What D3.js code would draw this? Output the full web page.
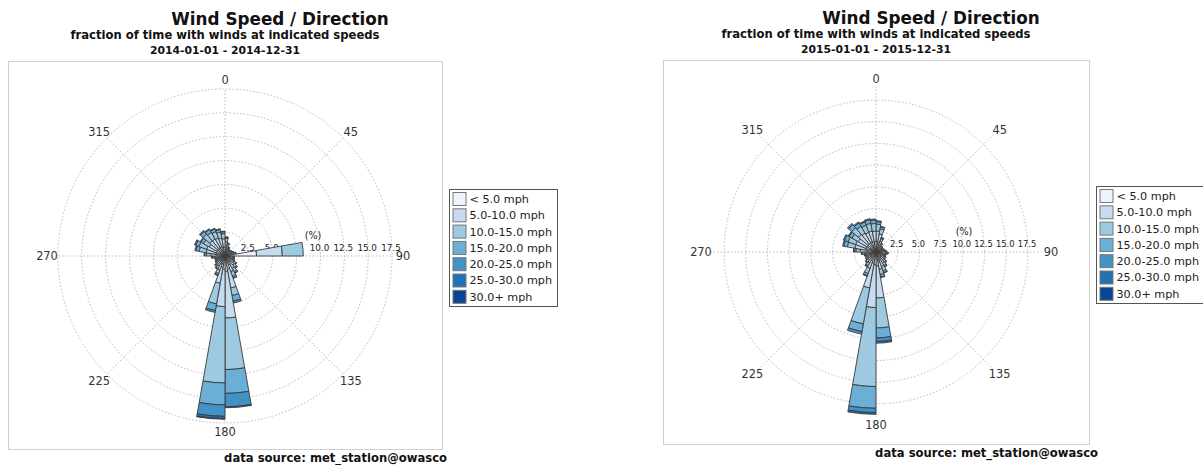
<!DOCTYPE html>
<html>
<head>
<meta charset="utf-8">
<script src="https://cdn.jsdelivr.net/npm/d3@7/dist/d3.min.js"></script>
<style>
  body { margin: 0; background: #fff; }
  svg { display: block; }
  text { font-family: "DejaVu Sans", sans-serif; }
</style>
</head>
<body>
<svg id="chart" width="1203" height="465"></svg>
<script>
// Direction bins (degrees, start of each 10-degree sector)
const dirBins = [0,10,20,30,40,50,60,70,80,90,100,110,120,130,140,150,160,170,
                 180,190,200,210,220,230,240,250,260,270,280,290,300,310,320,330,340,350];

const speedClasses = ["< 5.0 mph", "5.0-10.0 mph", "10.0-15.0 mph", "15.0-20.0 mph",
                      "20.0-25.0 mph", "25.0-30.0 mph", "30.0+ mph"];

const compassTicks = [0, 45, 90, 135, 180, 225, 270, 315];
const ringTicks = [2.5, 5.0, 7.5, 10.0, 12.5, 15.0, 17.5];

// 2014: percent of time per direction bin, one array per speed class
const y2014_lt5   = [0.9,0.7,0.55,0.5,0.5,0.55,0.6,0.7,3.3,0.55,0.55,0.6,0.7,0.8,0.9,1.0,1.4,1.6,
                     1.4,1.2,0.9,0.75,0.7,0.65,0.6,0.6,0.7,0.85,1.0,1.0,0.95,1.0,1.0,1.0,0.95,0.95];
const y2014_5_10  = [0.6,0.4,0.3,0.2,0.2,0.22,0.25,0.3,2.7,0.25,0.25,0.28,0.38,0.48,0.6,0.75,2.0,4.9,
                     3.9,1.7,0.65,0.45,0.38,0.3,0.28,0.28,0.38,0.65,1.0,1.05,0.95,1.1,1.05,1.0,0.95,0.85];
const y2014_10_15 = [0.35,0.22,0.12,0.08,0.08,0.1,0.12,0.15,2.2,0.15,0.15,0.16,0.22,0.28,0.4,0.5,0.8,5.4,
                     8.0,2.2,0.42,0.28,0.22,0.18,0.16,0.16,0.22,0.45,0.75,0.85,0.7,0.9,0.8,0.72,0.65,0.55];
const y2014_15_20 = [0.12,0.08,0.03,0.02,0.02,0.03,0.03,0.05,0,0.05,0.05,0.06,0.08,0.11,0.15,0.2,0.6,2.5,
                     2.3,0.7,0.18,0.1,0.08,0.07,0.06,0.06,0.08,0.2,0.35,0.38,0.32,0.38,0.35,0.3,0.28,0.2];
const y2014_20_25 = [0.03,0,0,0,0,0,0,0,0,0,0,0,0.02,0.03,0.05,0.05,0.2,1.4,
                     1.2,0.2,0.05,0.02,0.02,0,0,0,0.02,0.05,0.1,0.12,0.08,0.12,0.1,0.08,0.07,0.05];
const y2014_25_30 = [0,0,0,0,0,0,0,0,0,0,0,0,0,0,0,0,0,0.1,
                     0.25,0,0,0,0,0,0,0,0,0,0,0,0,0,0,0,0,0];
const y2014_30p   = [0,0,0,0,0,0,0,0,0,0,0,0,0,0,0,0,0,0,
                     0.05,0,0,0,0,0,0,0,0,0,0,0,0,0,0,0,0,0];

// 2015
const y2015_lt5   = [1.2,1.1,0.8,0.65,0.55,0.5,0.5,0.55,0.65,0.7,0.65,0.65,0.68,0.75,0.85,1.0,1.1,1.6,
                     1.5,1.3,1.1,0.85,0.75,0.7,0.68,0.7,0.78,1.0,1.2,1.2,1.15,1.25,1.2,1.2,1.2,1.2];
const y2015_5_10  = [1.2,1.0,0.55,0.33,0.27,0.24,0.24,0.27,0.33,0.4,0.33,0.33,0.36,0.45,0.6,0.8,0.9,3.7,
                     4.9,2.9,0.9,0.6,0.45,0.4,0.36,0.4,0.5,0.8,1.25,1.3,1.2,1.4,1.3,1.2,1.25,1.2];
const y2015_10_15 = [0.8,0.6,0.3,0.16,0.13,0.12,0.12,0.13,0.16,0.2,0.16,0.16,0.19,0.28,0.37,0.52,0.65,3.45,
                     9.1,4.2,0.65,0.37,0.28,0.2,0.19,0.2,0.28,0.52,0.9,0.92,0.85,1.0,0.92,0.88,0.9,0.88];
const y2015_15_20 = [0.3,0.25,0.12,0.06,0.05,0.04,0.04,0.05,0.06,0.08,0.06,0.06,0.07,0.1,0.14,0.22,0.27,1.15,
                     2.5,0.9,0.27,0.14,0.1,0.08,0.07,0.08,0.11,0.22,0.42,0.44,0.38,0.48,0.44,0.4,0.42,0.4];
const y2015_20_25 = [0.1,0.05,0.03,0,0,0,0,0,0,0.02,0,0,0,0.02,0.04,0.06,0.08,0.4,
                     0.5,0.3,0.08,0.04,0.02,0.02,0,0.02,0.03,0.06,0.13,0.14,0.12,0.17,0.14,0.12,0.13,0.12];
const y2015_25_30 = [0,0,0,0,0,0,0,0,0,0,0,0,0,0,0,0,0,0.2,
                     0.2,0,0,0,0,0,0,0,0,0,0,0,0,0,0,0,0,0];
const y2015_30p   = [0,0,0,0,0,0,0,0,0,0,0,0,0,0,0,0,0,0,
                     0,0,0,0,0,0,0,0,0,0,0,0,0,0,0,0,0,0];

const classColors = ["#eff3ff", "#c6dbef", "#9ecae1", "#6baed6", "#4292c6", "#2171b5", "#084594"];

const panels = [
  {
    title: "Wind Speed / Direction",
    subtitle: "fraction of time with winds at indicated speeds",
    period: "2014-01-01 - 2014-12-31",
    series: [y2014_lt5, y2014_5_10, y2014_10_15, y2014_15_20, y2014_20_25, y2014_25_30, y2014_30p],
    box: { x: 8.5, y: 61.5, w: 434, h: 388 },
    cx: 225, cy: 256, R: 168, rMax: 17.6,
    tickFont: 8.8, titleX: 280, titleY: 25,
    legend: { x: 449.5, y: 189.5 },
    sourceX: 447, sourceY: 461.5
  },
  {
    title: "Wind Speed / Direction",
    subtitle: "fraction of time with winds at indicated speeds",
    period: "2015-01-01 - 2015-12-31",
    series: [y2015_lt5, y2015_5_10, y2015_10_15, y2015_15_20, y2015_20_25, y2015_25_30, y2015_30p],
    box: { x: 663.5, y: 60.5, w: 426, h: 384 },
    cx: 876, cy: 252, R: 165, rMax: 19.0,
    tickFont: 8.4, titleX: 931, titleY: 24,
    legend: { x: 1096.5, y: 186.5 },
    sourceX: 1098, sourceY: 457
  }
];

const svg = d3.select("#chart");
const toRad = d => d * Math.PI / 180;

panels.forEach(p => {
  const g = svg.append("g");

  // headings
  g.append("text").attr("x", p.titleX).attr("y", p.titleY)
    .attr("text-anchor", "middle").attr("font-size", 16.8).attr("font-weight", "bold")
    .attr("fill", "#111").text(p.title);
  g.append("text").attr("x", p.cx).attr("y", p.titleY + 14)
    .attr("text-anchor", "middle").attr("font-size", 11.6).attr("font-weight", "bold")
    .attr("fill", "#111").text(p.subtitle);
  g.append("text").attr("x", p.cx).attr("y", p.titleY + 29)
    .attr("text-anchor", "middle").attr("font-size", 10.8).attr("font-weight", "bold")
    .attr("fill", "#111").text(p.period);

  // plot frame
  g.append("rect").attr("x", p.box.x).attr("y", p.box.y)
    .attr("width", p.box.w).attr("height", p.box.h)
    .attr("fill", "#fff").attr("stroke", "#cfcfcf").attr("stroke-width", 1);

  const r = d3.scaleLinear().domain([0, p.rMax]).range([0, p.R]);
  const plot = g.append("g").attr("transform", `translate(${p.cx},${p.cy})`);

  // grid rings
  plot.selectAll("circle.ring").data(ringTicks).join("circle")
    .attr("class", "ring").attr("r", d => r(d))
    .attr("fill", "none").attr("stroke", "#b8b8b8")
    .attr("stroke-width", 1).attr("stroke-dasharray", "1.5,2");

  // spokes
  plot.selectAll("line.spoke").data(compassTicks).join("line")
    .attr("class", "spoke")
    .attr("x1", 0).attr("y1", 0)
    .attr("x2", d => r(p.rMax) * Math.sin(toRad(d)))
    .attr("y2", d => -r(p.rMax) * Math.cos(toRad(d)))
    .attr("stroke", "#b8b8b8").attr("stroke-width", 1).attr("stroke-dasharray", "1.5,2");

  // ring value labels along the east axis
  plot.selectAll("text.rtick").data(ringTicks).join("text")
    .attr("class", "rtick")
    .attr("x", d => r(d) - 1).attr("y", -5)
    .attr("text-anchor", "middle").attr("font-size", p.tickFont).attr("fill", "#222")
    .text(d => d.toFixed(1));
  plot.append("text").attr("x", 88).attr("y", -17)
    .attr("text-anchor", "middle").attr("font-size", 9.6).attr("fill", "#222").text("(%)");

  // stacked sectors
  const arc = d3.arc();
  const segs = [];
  dirBins.forEach((dir, i) => {
    let cum = 0;
    p.series.forEach((vals, k) => {
      const v = vals[i];
      if (v > 0) {
        segs.push({ dir, k, inner: cum, outer: cum + v });
      }
      cum += v;
    });
  });
  plot.selectAll("path.seg").data(segs).join("path")
    .attr("class", "seg")
    .attr("d", s => arc({
      innerRadius: r(s.inner), outerRadius: r(s.outer),
      startAngle: toRad(s.dir), endAngle: toRad(s.dir + 10)
    }))
    .attr("fill", s => classColors[s.k])
    .attr("stroke", "#3a3a3a").attr("stroke-width", 0.9)
    .attr("stroke-linejoin", "miter");

  // compass labels
  plot.selectAll("text.ctick").data(compassTicks).join("text")
    .attr("class", "ctick")
    .attr("x", d => (r(p.rMax) + 10) * Math.sin(toRad(d)))
    .attr("y", d => -(r(p.rMax) + 8) * Math.cos(toRad(d)))
    .attr("dy", "0.36em")
    .attr("text-anchor", "middle").attr("font-size", 11.4).attr("fill", "#333")
    .text(d => d);

  // legend
  const lg = g.append("g").attr("transform", `translate(${p.legend.x},${p.legend.y})`);
  lg.append("rect").attr("width", 108).attr("height", 117)
    .attr("fill", "#fff").attr("stroke", "#555").attr("stroke-width", 1);
  const rows = lg.selectAll("g.row").data(speedClasses).join("g")
    .attr("class", "row")
    .attr("transform", (d, i) => `translate(0,${9.5 + i * 16.3})`);
  rows.append("rect").attr("x", 3.5).attr("y", -6.5).attr("width", 13).attr("height", 13)
    .attr("fill", (d, i) => classColors[i]).attr("stroke", "#777").attr("stroke-width", 1);
  rows.append("text").attr("x", 20).attr("y", 0).attr("dy", "0.35em")
    .attr("font-size", 11.2).attr("fill", "#222").text(d => d);

  // data source
  g.append("text").attr("x", p.sourceX).attr("y", p.sourceY)
    .attr("text-anchor", "end").attr("font-size", 11.6).attr("font-weight", "bold")
    .attr("fill", "#111").text("data source: met_station@owasco");
});
</script>
</body>
</html>
